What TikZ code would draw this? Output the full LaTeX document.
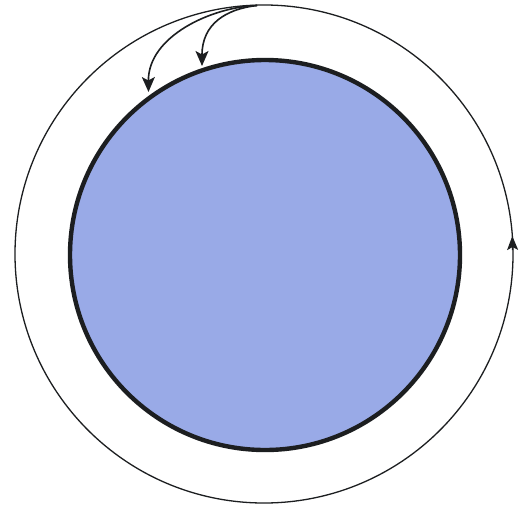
\documentclass[tikz,border=0pt]{standalone}
\usetikzlibrary{arrows.meta}
\definecolor{discfill}{RGB}{153,170,231}
\definecolor{ink}{RGB}{28,30,32}
\tikzset{
  orbit/.style={draw=ink, line width=1.3pt},
  disc/.style={draw=ink, line width=4.4pt, fill=discfill},
  flow/.style={draw=ink, line width=1.6pt, -{Stealth[length=15pt,width=13pt,inset=3.5pt]}},
  uptip/.style={draw=ink, line width=1.3pt, -{Stealth[length=14pt,width=11pt,inset=3pt]}}
}
\begin{document}
\begin{tikzpicture}[x=1pt,y=-1pt]
\useasboundingbox (0,0) rectangle (521,506);
\coordinate (c) at (264,254);
\coordinate (top) at (257,5.5);
\coordinate (t1) at (148.5,92);
\coordinate (t2) at (202,66);
\coordinate (r0) at (512.6,250);
\coordinate (r1) at (512.3,236);
\fill[white] (0,0) rectangle (521,506);
\draw[disc] (265,255) circle (195);
\draw[orbit] (c) circle (249);
\draw[flow] (top) .. controls (212,7) and (148,36) .. (t1);
\draw[flow] (top) .. controls (226,9) and (202,24) .. (t2);
\draw[uptip] (r0) -- (r1);
\end{tikzpicture}
\end{document}
